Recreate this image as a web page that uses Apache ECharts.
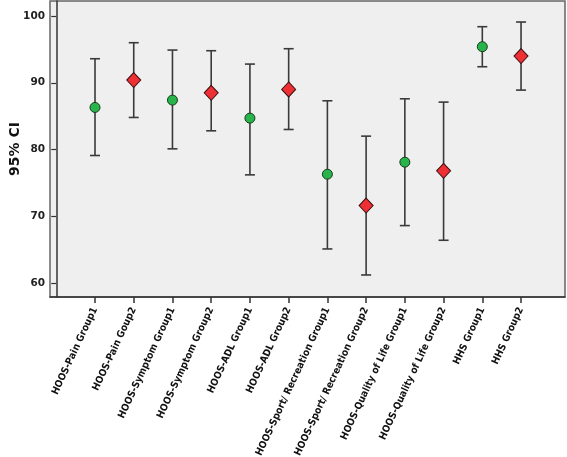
<!DOCTYPE html>
<html><head><meta charset="utf-8">
<script src="https://cdn.jsdelivr.net/npm/echarts@6/dist/echarts.min.js"></script>
<style>html,body{margin:0;padding:0;background:#fff}#c{width:567px;height:457px}</style>
</head><body><div id="c"></div>
<script>
const categories = ["HOOS-Pain Group1","HOOS-Pain Goup2","HOOS-Symptom Group1","HOOS-Symptom Group2","HOOS-ADL Group1","HOOS-ADL Group2","HOOS-Sport/ Recreation Group1","HOOS-Sport/ Recreation Group2","HOOS-Quality of Life Group1","HOOS-Quality of Life Group2","HHS Group1","HHS Group2"];
const means = [86.3,90.4,87.4,88.5,84.7,89.0,76.3,71.6,78.1,76.8,95.4,94.0];
const lower = [79.1,84.8,80.1,82.8,76.2,83.0,65.1,61.2,68.6,66.4,92.4,88.9];
const upper = [93.6,96.0,94.9,94.8,92.8,95.1,87.3,82.0,87.6,87.1,98.4,99.1];
const groups = [1,2,1,2,1,2,1,2,1,2,1,2];
const yTicks = [60,70,80,90,100];

const g1 = [], g2 = [], bars = [];
categories.forEach((c,i)=>{
  const x = i+1;
  bars.push([x, lower[i], upper[i]]);
  (groups[i]===1?g1:g2).push([x, means[i]]);
});
const xTicks = categories.map((c,i)=>i+1);

const chart = echarts.init(document.getElementById('c'), null, {renderer:'canvas'});
chart.setOption({
  animation:false,
  backgroundColor:'#ffffff',
  grid:{left:50,right:2,top:1,bottom:160,outerBoundsMode:'none',containLabel:false,show:true,backgroundColor:'#efefef',borderColor:'#666',borderWidth:1.5},
  xAxis:{type:'value',min:-0.162,max:13.135,
    splitLine:{show:false},
    axisLine:{show:true,onZero:false,lineStyle:{color:'#333',width:1.5}},
    axisTick:{show:true,customValues:xTicks,length:6,lineStyle:{color:'#333',width:1.5}},
    axisLabel:{customValues:xTicks,rotate:65,margin:11,formatter:v=>categories[Math.round(v)-1]||'',
      fontFamily:'DejaVu Sans Condensed',fontWeight:'bold',fontSize:10,color:'#111'}
  },
  yAxis:{type:'value',min:57.9,max:102.25,name:'95% CI',nameLocation:'middle',nameGap:28,nameMoveOverlap:false,
    nameTextStyle:{fontFamily:'DejaVu Sans',fontWeight:'bold',fontSize:14,color:'#111'},
    splitLine:{show:false},
    axisLine:{show:true,lineStyle:{color:'#333',width:1.5}},
    axisTick:{show:true,customValues:yTicks,length:5,lineStyle:{color:'#333',width:1.2}},
    axisLabel:{customValues:yTicks,margin:5,fontFamily:'DejaVu Sans',fontWeight:'bold',fontSize:10.5,color:'#222'}
  },
  series:[
    {type:'custom',data:bars,z:2,
      renderItem:(params,api)=>{
        const x=api.value(0);
        const lo=api.coord([x,api.value(1)]);
        const hi=api.coord([x,api.value(2)]);
        const w=5;
        const st={stroke:'#3a3a3a',lineWidth:1.6};
        return {type:'group',children:[
          {type:'line',shape:{x1:lo[0],y1:lo[1],x2:hi[0],y2:hi[1]},style:st},
          {type:'line',shape:{x1:lo[0]-w,y1:lo[1],x2:lo[0]+w,y2:lo[1]},style:st},
          {type:'line',shape:{x1:hi[0]-w,y1:hi[1],x2:hi[0]+w,y2:hi[1]},style:st}
        ]};
      }
    },
    {type:'scatter',data:g1,symbol:'circle',symbolSize:10,z:5,
      itemStyle:{color:'#27b44a',borderColor:'#1a3a1a',borderWidth:1,opacity:1}},
    {type:'scatter',data:g2,symbol:'diamond',symbolSize:[14,15],z:5,
      itemStyle:{color:'#ee3035',borderColor:'#3a1010',borderWidth:1,opacity:1}}
  ]
});
</script></body></html>
